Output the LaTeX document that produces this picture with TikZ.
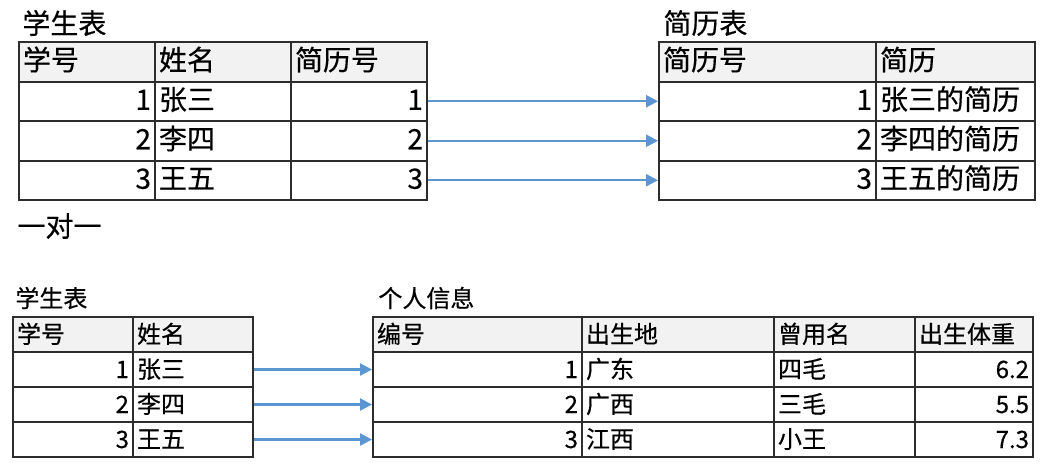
\documentclass[tikz,border=0pt]{standalone}
\usepackage{fontspec}
\setmainfont[FakeBold=0.4]{Noto Sans CJK SC}
\usetikzlibrary{arrows.meta}

\newlength{\du}
\setlength{\du}{0.5pt}
\definecolor{gridcolor}{RGB}{45,45,45}
\definecolor{headcolor}{RGB}{242,242,242}
\definecolor{linkcolor}{RGB}{91,150,210}

\begin{document}
\begin{tikzpicture}[
  cell/.style={draw=gridcolor, line width=1pt, anchor=north west, inner xsep=4\du, inner ysep=0pt, text height=0.95em, text depth=0.1em},
  hc/.style={cell, fill=headcolor, align=left},
  lc/.style={cell, align=left},
  rc/.style={cell, align=right},
  ttl/.style={anchor=west, inner sep=0pt},
  link/.style={draw=linkcolor, line width=1.2pt, -{Triangle[length=6pt,width=6pt]}},
  big/.style={font=\fontsize{14pt}{16pt}\selectfont},
  small/.style={font=\fontsize{12pt}{14pt}\selectfont},
  ta/.style={big, text width=128\du, minimum height=39.5\du},
  tb/.style={big, minimum height=39.5\du},
  pa/.style={small, text width=112\du, minimum height=35\du},
  pb/.style={small, minimum height=35\du}
]
\pgftransformxscale{1.000000}
\pgftransformyscale{-1.000000}
\fill[white] (0\du,0\du) rectangle (1042\du,463\du);

% one to one: student / cv
\node[ttl, big] (stuT) at (22\du,23\du) {学生表};
\node[hc, ta] (s00) at (18\du,41\du) {学号};
\node[hc, ta] (s01) at (154\du,41\du) {姓名};
\node[hc, ta] (s02) at (290\du,41\du) {简历号};
\node[rc, ta] (s10) at (18\du,80.5\du) {1};
\node[lc, ta] (s11) at (154\du,80.5\du) {张三};
\node[rc, ta] (s12) at (290\du,80.5\du) {1};
\node[rc, ta] (s20) at (18\du,120\du) {2};
\node[lc, ta] (s21) at (154\du,120\du) {李四};
\node[rc, ta] (s22) at (290\du,120\du) {2};
\node[rc, ta] (s30) at (18\du,159.5\du) {3};
\node[lc, ta] (s31) at (154\du,159.5\du) {王五};
\node[rc, ta] (s32) at (290\du,159.5\du) {3};

\node[ttl, big] (cvT) at (663\du,23\du) {简历表};
\node[hc, tb, text width=209\du] (r00) at (658\du,41\du) {简历号};
\node[hc, tb, text width=151\du] (r01) at (875\du,41\du) {简历};
\node[rc, tb, text width=209\du] (r10) at (658\du,80.5\du) {1};
\node[lc, tb, text width=151\du] (r11) at (875\du,80.5\du) {张三的简历};
\node[rc, tb, text width=209\du] (r20) at (658\du,120\du) {2};
\node[lc, tb, text width=151\du] (r21) at (875\du,120\du) {李四的简历};
\node[rc, tb, text width=209\du] (r30) at (658\du,159.5\du) {3};
\node[lc, tb, text width=151\du] (r31) at (875\du,159.5\du) {王五的简历};

\draw[link] (s12.east) -- (r10.west);
\draw[link] (s22.east) -- (r20.west);
\draw[link] (s32.east) -- (r30.west);

\node[ttl, big] (oneT) at (17\du,226\du) {一对一};

% student / personal info
\node[ttl, small] (stuB) at (15\du,298\du) {学生表};
\node[hc, pa] (p00) at (12\du,316\du) {学号};
\node[hc, pa] (p01) at (132\du,316\du) {姓名};
\node[rc, pa] (p10) at (12\du,351\du) {1};
\node[lc, pa] (p11) at (132\du,351\du) {张三};
\node[rc, pa] (p20) at (12\du,386\du) {2};
\node[lc, pa] (p21) at (132\du,386\du) {李四};
\node[rc, pa] (p30) at (12\du,421\du) {3};
\node[lc, pa] (p31) at (132\du,421\du) {王五};

\node[ttl, small] (infoT) at (378\du,298\du) {个人信息};
\node[hc, pb, text width=201\du] (q00) at (372\du,316\du) {编号};
\node[hc, pb, text width=184\du] (q01) at (581\du,316\du) {出生地};
\node[hc, pb, text width=133\du] (q02) at (773\du,316\du) {曾用名};
\node[hc, pb, text width=110\du] (q03) at (914\du,316\du) {出生体重};
\node[rc, pb, text width=201\du] (q10) at (372\du,351\du) {1};
\node[lc, pb, text width=184\du] (q11) at (581\du,351\du) {广东};
\node[lc, pb, text width=133\du] (q12) at (773\du,351\du) {四毛};
\node[rc, pb, text width=110\du] (q13) at (914\du,351\du) {6.2};
\node[rc, pb, text width=201\du] (q20) at (372\du,386\du) {2};
\node[lc, pb, text width=184\du] (q21) at (581\du,386\du) {广西};
\node[lc, pb, text width=133\du] (q22) at (773\du,386\du) {三毛};
\node[rc, pb, text width=110\du] (q23) at (914\du,386\du) {5.5};
\node[rc, pb, text width=201\du] (q30) at (372\du,421\du) {3};
\node[lc, pb, text width=184\du] (q31) at (581\du,421\du) {江西};
\node[lc, pb, text width=133\du] (q32) at (773\du,421\du) {小王};
\node[rc, pb, text width=110\du] (q33) at (914\du,421\du) {7.3};

\draw[link] (p11.east) -- (q10.west);
\draw[link] (p21.east) -- (q20.west);
\draw[link] (p31.east) -- (q30.west);
\end{tikzpicture}
\end{document}
